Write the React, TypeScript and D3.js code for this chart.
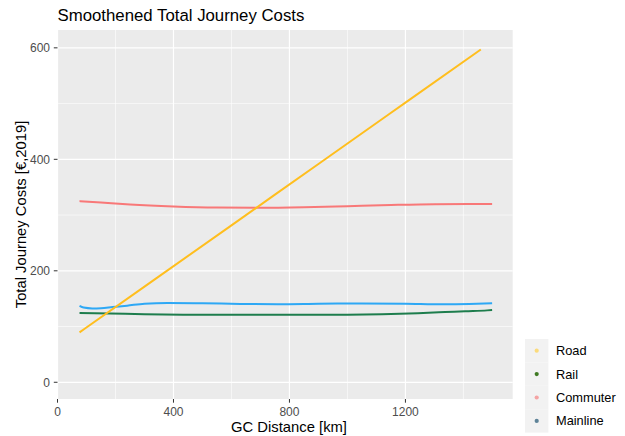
import React from 'react';
import * as d3 from 'd3';

// values (km -> € 2019)
const roadKm = [76, 300, 600, 900, 1200, 1460];
const roadCost = [89.5, 171.6, 281.6, 391.7, 501.7, 597];

const railKm = [76, 182, 300, 433, 600, 800, 1000, 1119, 1243, 1337, 1406, 1482, 1499];
const railCost = [124.3, 123.5, 122, 121.2, 121, 121, 121.2, 122, 124, 126, 127.5, 129, 129.7];

const commuterKm = [76, 150, 250, 400, 550, 700, 850, 1000, 1150, 1300, 1499];
const commuterCost = [325, 322.5, 319, 315.5, 313.5, 313, 314, 316, 318, 319.5, 320];

const mainlineKm = [76, 90, 120, 150, 190, 240, 300, 380, 500, 630, 760, 900, 1050, 1200, 1330, 1420, 1499];
const mainlineCost = [137, 134, 132.5, 132.8, 135, 137.5, 141, 142.3, 141.8, 140.5, 140, 140.8, 141.5, 141, 140, 140.5, 141.6];

const xTicks = [0, 400, 800, 1200];
const xMinor = [200, 600, 1000, 1400];
const yTicks = [0, 200, 400, 600];
const yMinor = [100, 300, 500];

const seriesNames = ['Road', 'Rail', 'Commuter', 'Mainline'];
const lineColors = ['#FFBE1E', '#1E7D4D', '#F87878', '#2EA8F5'];
const legendColors = ['#FBDB7C', '#3F7A23', '#F4A3A3', '#5E8398'];

const font = "'Liberation Sans', Arial, sans-serif";

export default function App() {
  const left = 57.5, right = 512.7, top = 30, bottom = 399;

  const x = d3.scaleLinear().domain([0, 1570]).range([left, right]);
  const y = d3.scaleLinear().domain([-30, 632]).range([bottom, top]);

  const line = d3.line<[number, number]>()
    .x(d => x(d[0]))
    .y(d => y(d[1]))
    .curve(d3.curveMonotoneX);

  const series = [
    d3.zip(roadKm, roadCost),
    d3.zip(railKm, railCost),
    d3.zip(commuterKm, commuterCost),
    d3.zip(mainlineKm, mainlineCost),
  ] as [number, number][][];

  // draw order: commuter, mainline, rail, road on top
  const order = [2, 3, 1, 0];

  const keySize = 23.4;
  const legendTop = 339;
  const legendX = 525;

  return (
    <svg width={625} height={436} style={{ position: 'absolute', left: 0, top: 0, background: '#fff' }}>
      <rect x={left} y={top} width={right - left} height={bottom - top} fill="#EBEBEB" />
      {xMinor.map(t => (
        <line key={'xm' + t} x1={x(t)} x2={x(t)} y1={top} y2={bottom} stroke="#fff" strokeWidth={0.6} />
      ))}
      {yMinor.map(t => (
        <line key={'ym' + t} x1={left} x2={right} y1={y(t)} y2={y(t)} stroke="#fff" strokeWidth={0.6} />
      ))}
      {xTicks.map(t => (
        <line key={'xg' + t} x1={x(t)} x2={x(t)} y1={top} y2={bottom} stroke="#fff" strokeWidth={1.2} />
      ))}
      {yTicks.map(t => (
        <line key={'yg' + t} x1={left} x2={right} y1={y(t)} y2={y(t)} stroke="#fff" strokeWidth={1.2} />
      ))}

      {order.map(i => (
        <path key={seriesNames[i]} d={line(series[i]) || ''} fill="none"
          stroke={lineColors[i]} strokeWidth={2} />
      ))}

      {/* axes */}
      {xTicks.map(t => (
        <g key={'xt' + t}>
          <line x1={x(t)} x2={x(t)} y1={bottom} y2={bottom + 3.7} stroke="#333" strokeWidth={1} />
          <text x={x(t)} y={415.5} textAnchor="middle" fontFamily={font} fontSize={12} fill="#4D4D4D">{t}</text>
        </g>
      ))}
      {yTicks.map(t => (
        <g key={'yt' + t}>
          <line x1={left - 3.7} x2={left} y1={y(t)} y2={y(t)} stroke="#333" strokeWidth={1} />
          <text x={50} y={y(t)} dy="0.36em" textAnchor="end" fontFamily={font} fontSize={12} fill="#4D4D4D">{t}</text>
        </g>
      ))}

      <text x={289} y={432} textAnchor="middle" fontFamily={font} fontSize={14.8} fill="#000">GC Distance [km]</text>
      <text transform={`translate(25.5,${(top + bottom) / 2}) rotate(-90)`} textAnchor="middle"
        fontFamily={font} fontSize={14.8} fill="#000">Total Journey Costs [€,2019]</text>
      <text x={left} y={21} fontFamily={font} fontSize={16.8} fill="#000">Smoothened Total Journey Costs</text>

      {/* legend */}
      {seriesNames.map((name, i) => (
        <g key={'lg' + name} transform={`translate(${legendX},${legendTop + i * keySize})`}>
          <rect width={keySize} height={keySize} fill="#F2F2F2" />
          <circle cx={keySize / 2} cy={keySize / 2} r={2.1} fill={legendColors[i]} />
          <text x={31} y={keySize / 2} dy="0.36em" fontFamily={font} fontSize={12.8} fill="#000">{name}</text>
        </g>
      ))}
    </svg>
  );
}
